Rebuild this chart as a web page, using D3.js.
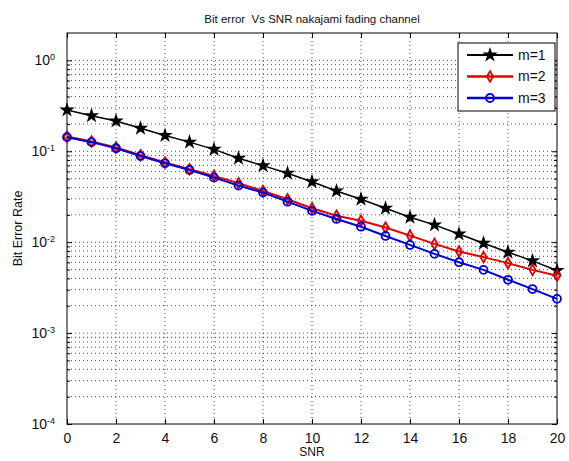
<!DOCTYPE html>
<html>
<head>
<meta charset="utf-8">
<script src="https://cdn.jsdelivr.net/npm/d3@7.9.0/dist/d3.min.js"></script>
<style>
  body { margin: 0; background: #fff; }
  svg { display: block; font-family: "Liberation Sans", Arial, sans-serif; }
  .grid line { stroke: #222; stroke-dasharray: 1,3; stroke-width: 0.8; }
</style>
</head>
<body>
<div id="chart"></div>
<script>
// ── Data ────────────────────────────────────────────────────────────────
const snr = [0, 1, 2, 3, 4, 5, 6, 7, 8, 9, 10, 11, 12, 13, 14, 15, 16, 17, 18, 19, 20];
const berM1 = [0.284, 0.246, 0.215, 0.179, 0.149, 0.126, 0.105, 0.0837, 0.0695, 0.0573, 0.0463,
  0.0366, 0.0297, 0.0236, 0.0188, 0.0155, 0.0123, 0.00974, 0.00776, 0.00623, 0.00488];
const berM2 = [0.145, 0.128, 0.110, 0.0905, 0.0752, 0.0635, 0.0536, 0.0445, 0.0366, 0.0297, 0.0236,
  0.0195, 0.0172, 0.0145, 0.0118, 0.00957, 0.00789, 0.00685, 0.00588, 0.00496, 0.00427];
const berM3 = [0.143, 0.126, 0.108, 0.0888, 0.0738, 0.0623, 0.0513, 0.0419, 0.0351, 0.0279, 0.0221,
  0.0180, 0.0148, 0.0117, 0.00933, 0.00743, 0.00602, 0.00496, 0.00386, 0.00305, 0.00238];
const seriesNames = ['m=1', 'm=2', 'm=3'];
const xTicks = [0, 2, 4, 6, 8, 10, 12, 14, 16, 18, 20];
const yDecades = [1e-4, 1e-3, 1e-2, 1e-1, 1];
const yExponents = ['-4', '-3', '-2', '-1', '0'];

const title = 'Bit error  Vs SNR nakajami fading channel';
const xLabel = 'SNR';
const yLabel = 'Bit Error Rate';

// ── Layout ──────────────────────────────────────────────────────────────
const width = 569, height = 461;
const margin = { top: 33, right: 12, bottom: 37, left: 67 };
const iw = width - margin.left - margin.right;
const ih = height - margin.top - margin.bottom;

const svg = d3.select('#chart').append('svg')
  .attr('width', width).attr('height', height);

const g = svg.append('g').attr('transform', `translate(${margin.left},${margin.top})`);

const x = d3.scaleLinear().domain([0, 20]).range([0, iw]);
const y = d3.scaleLog().domain([1e-4, 2]).range([ih, 0]);

// minor values within each decade
const minorVals = [];
yDecades.slice(0, 4).forEach(d => { for (let k = 2; k <= 9; k++) minorVals.push(d * k); });
const allY = yDecades.concat(minorVals).filter(v => v > 1e-4 && v < 2);

// ── Grid ────────────────────────────────────────────────────────────────
const grid = g.append('g').attr('class', 'grid');
grid.selectAll('.gy').data(allY).join('line')
  .attr('x1', 0).attr('x2', iw)
  .attr('y1', d => y(d)).attr('y2', d => y(d));
grid.selectAll('.gx').data(xTicks.slice(1, -1)).join('line')
  .attr('class', 'gx')
  .attr('x1', d => x(d)).attr('x2', d => x(d))
  .attr('y1', 0).attr('y2', ih);

// ── Axes (ticks inward, box) ────────────────────────────────────────────
const axisStyle = sel => {
  sel.select('.domain').remove();
  sel.selectAll('line').attr('stroke', '#000');
};
g.append('g').attr('transform', `translate(0,${ih})`)
  .call(d3.axisBottom(x).tickValues(xTicks).tickSize(-5).tickPadding(9).tickFormat(d3.format('d')))
  .call(axisStyle)
  .call(s => s.selectAll('text').attr('font-size', 14).attr('fill', '#111')
    .attr('font-family', '"Liberation Sans", Arial, sans-serif'));
g.append('g')
  .call(d3.axisTop(x).tickValues(xTicks).tickSize(-5).tickFormat(''))
  .call(axisStyle);

g.append('g')
  .call(d3.axisLeft(y).tickValues(yDecades).tickSize(-5).tickPadding(12).tickFormat(''))
  .call(axisStyle)
  .call(s => s.selectAll('.tick').each(function (d, i) {
    const t = d3.select(this).select('text')
      .attr('font-size', 14).attr('fill', '#111').attr('dy', '0.32em')
      .attr('font-family', '"Liberation Sans", Arial, sans-serif');
    t.append('tspan').text('10');
    t.append('tspan').attr('dy', '-0.6em').attr('font-size', 9).text(yExponents[i]);
  }));
g.append('g').attr('transform', `translate(${iw},0)`)
  .call(d3.axisRight(y).tickValues(yDecades).tickSize(-5).tickFormat(''))
  .call(axisStyle);
g.append('g')
  .call(d3.axisLeft(y).tickValues(minorVals.filter(v => v > 1e-4 && v < 2)).tickSize(-3).tickFormat(''))
  .call(axisStyle);
g.append('g').attr('transform', `translate(${iw},0)`)
  .call(d3.axisRight(y).tickValues(minorVals.filter(v => v > 1e-4 && v < 2)).tickSize(-3).tickFormat(''))
  .call(axisStyle);

g.append('rect').attr('width', iw).attr('height', ih)
  .attr('fill', 'none').attr('stroke', '#000').attr('stroke-width', 1);

// ── Series ──────────────────────────────────────────────────────────────
const series = [
  { name: seriesNames[0], values: berM1, color: '#000', symbol: d3.symbolStar, size: 30, fill: '#000', lw: 1.5 },
  { name: seriesNames[1], values: berM2, color: '#e00000', symbol: d3.symbolDiamond, size: 32, fill: 'none', lw: 2 },
  { name: seriesNames[2], values: berM3, color: '#0000d0', symbol: d3.symbolCircle, size: 50, fill: 'none', lw: 2 },
];

const line = d3.line().x((d, i) => x(snr[i])).y(d => y(d));

series.forEach(s => {
  const sg = g.append('g');
  sg.append('path').datum(s.values)
    .attr('d', line).attr('fill', 'none')
    .attr('stroke', s.color).attr('stroke-width', s.lw);
  sg.selectAll('path.m').data(s.values).join('path')
    .attr('class', 'm')
    .attr('transform', (d, i) => `translate(${x(snr[i])},${y(d)})`)
    .attr('d', d3.symbol().type(s.symbol).size(s.size))
    .attr('fill', s.fill).attr('stroke', s.color).attr('stroke-width', 1.8);
});

// ── Legend ──────────────────────────────────────────────────────────────
const lg = svg.append('g').attr('transform', 'translate(458,43)');
lg.append('rect').attr('width', 97).attr('height', 68)
  .attr('fill', '#fff').attr('stroke', '#000').attr('stroke-width', 1);
series.forEach((s, i) => {
  const yy = 12 + i * 21.5;
  lg.append('line').attr('x1', 9).attr('x2', 55).attr('y1', yy).attr('y2', yy)
    .attr('stroke', s.color).attr('stroke-width', s.lw + 0.6);
  lg.append('path').attr('transform', `translate(32,${yy})`)
    .attr('d', d3.symbol().type(s.symbol).size(s.size))
    .attr('fill', s.fill).attr('stroke', s.color).attr('stroke-width', 1.8);
  lg.append('text').attr('x', 60).attr('y', yy).attr('dy', '0.35em')
    .attr('font-size', 14).attr('fill', '#111').text(s.name);
});

// ── Labels ──────────────────────────────────────────────────────────────
svg.append('text').attr('x', margin.left + iw / 2).attr('y', 23)
  .attr('text-anchor', 'middle').attr('font-size', 11.5).attr('fill', '#111')
  .style('white-space', 'pre').text(title);
svg.append('text').attr('x', margin.left + iw / 2).attr('y', 456)
  .attr('text-anchor', 'middle').attr('font-size', 12).attr('fill', '#111').text(xLabel);
svg.append('text')
  .attr('transform', `translate(22,${margin.top + ih / 2}) rotate(-90)`)
  .attr('text-anchor', 'middle').attr('font-size', 12.5).attr('fill', '#111').text(yLabel);
</script>
</body>
</html>
